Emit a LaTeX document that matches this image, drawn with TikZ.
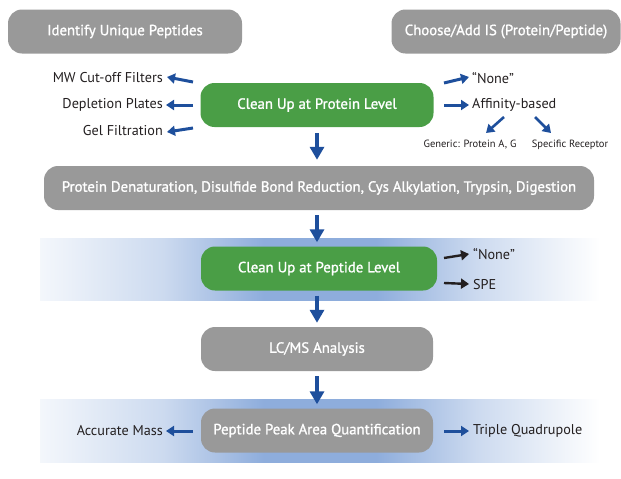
\documentclass[tikz,border=0pt]{standalone}
\usepackage{fontspec}
\setmainfont{PT Sans}
\newfontfamily\boxfont{PT Sans}[FakeBold=1.2]
\usetikzlibrary{arrows.meta}
\definecolor{boxgrey}{HTML}{999999}
\definecolor{boxgreen}{HTML}{4A9E46}
\definecolor{arrblue}{HTML}{1E4F9C}
\definecolor{bandblue}{HTML}{8EADDC}
\definecolor{lbltext}{HTML}{231F20}
\pgfdeclarehorizontalshading{bandshade}{100bp}{color(0bp)=(white); color(25bp)=(bandblue!10); color(36bp)=(bandblue!45); color(45bp)=(bandblue); color(55bp)=(bandblue); color(64bp)=(bandblue!45); color(75bp)=(white); color(100bp)=(white)}
\begin{document}
\begin{tikzpicture}[x=1pt,y=-1pt,
  box/.style={rounded corners=14pt, minimum height=44pt, text=white, font=\boxfont\fontsize{14.8}{16}\selectfont, inner sep=0pt, anchor=center},
  greybox/.style={box, fill=boxgrey},
  greenbox/.style={box, fill=boxgreen},
  lbl/.style={font=\fontsize{14.2}{16}\selectfont, text=lbltext, inner sep=0pt},
  smalllbl/.style={font=\fontsize{10.5}{12}\selectfont, text=lbltext, inner sep=0pt},
  arr/.style={-{Triangle[length=8pt,width=10pt]}, line width=3pt, draw=arrblue},
  karr/.style={arr, draw=lbltext},
  vlink/.style={draw=arrblue, line width=3.3pt, -{Triangle[length=13pt,width=14pt]}, shorten <=5pt, shorten >=4pt}]
\useasboundingbox (0,0) rectangle (621,479);
% bands
\shade[shading=bandshade] (40,238) rectangle (600,300);
\shade[shading=bandshade] (40,399) rectangle (600,462);
% top boxes
\node[greybox, minimum width=234pt] (iup) at (125,31.5) {Identify Unique Peptides};
\node[greybox, minimum width=229pt] (cis) at (506,31.5) {Choose/Add IS (Protein/Peptide)};
% main flow
\node[greenbox, minimum width=233pt] (clp) at (317,105) {Clean Up at Protein Level};
\node[greybox, minimum width=550pt] (den) at (319,188) {Protein Denaturation, Disulfide Bond Reduction, Cys Alkylation, Trypsin, Digestion};
\node[greenbox, minimum width=236pt] (cpl) at (319,268.5) {Clean Up at Peptide Level};
\node[greybox, minimum width=232pt] (lcms) at (317,349) {LC/MS Analysis};
\node[greybox, minimum width=232pt] (quant) at (317,430.5) {Peptide Peak Area Quantification};
% vertical links
\draw[vlink, shorten <=6pt, shorten >=6pt] (clp.south -| 317,0) -- (den.north -| 317,0);
\draw[vlink] (den.south -| 317,0) -- (cpl.north -| 317,0);
\draw[vlink] (cpl.south -| 317,0) -- (lcms.north -| 317,0);
\draw[vlink] (lcms.south -| 317,0) -- (quant.north -| 317,0);
% left labels protein level
\node[lbl, anchor=east] (mw) at (163,78) {MW Cut-off Filters};
\node[lbl, anchor=east] (dp) at (163,105) {Depletion Plates};
\node[lbl, anchor=east] (gf) at (163,131) {Gel Filtration};
\coordinate (l1a) at (193,82); \coordinate (l1b) at (167,77);
\coordinate (l2a) at (193,105); \coordinate (l2b) at (166,105);
\coordinate (l3a) at (193,128); \coordinate (l3b) at (167,132);
\draw[arr] (l1a) -- (l1b);
\draw[arr] (l2a) -- (l2b);
\draw[arr] (l3a) -- (l3b);
% right labels protein level
\node[lbl, anchor=west] (none1) at (472,78) {“None”};
\node[lbl, anchor=west] (aff) at (472,105) {Affinity-based};
\coordinate (r1a) at (444,83); \coordinate (r1b) at (469,77);
\coordinate (r2a) at (444,105); \coordinate (r2b) at (469,105);
\draw[arr] (r1a) -- (r1b);
\draw[arr] (r2a) -- (r2b);
\node[smalllbl] (gen) at (470,145) {Generic: Protein A, G};
\node[smalllbl] (spec) at (570,145) {Specific Receptor};
\coordinate (s1a) at (504,117); \coordinate (s1b) at (486,133);
\coordinate (s2a) at (535,117); \coordinate (s2b) at (551,133);
\draw[arr, line width=2.6pt] (s1a) -- (s1b);
\draw[arr, line width=2.6pt] (s2a) -- (s2b);
% peptide level
\node[lbl, anchor=west] (none2) at (473,254) {“None”};
\node[lbl, anchor=west] (spe) at (473,285) {SPE};
\coordinate (p1a) at (444,258); \coordinate (p1b) at (469,254);
\coordinate (p2a) at (444,283); \coordinate (p2b) at (469,284);
\draw[karr, line width=2.4pt] (p1a) -- (p1b);
\draw[karr, line width=2.4pt] (p2a) -- (p2b);
% quantification
\node[lbl, anchor=east] (am) at (163,431) {Accurate Mass};
\node[lbl, anchor=west] (tq) at (473,431) {Triple Quadrupole};
\coordinate (q1a) at (193,431); \coordinate (q1b) at (166,431);
\coordinate (q2a) at (444,431); \coordinate (q2b) at (469,431);
\draw[arr] (q1a) -- (q1b);
\draw[arr] (q2a) -- (q2b);
\end{tikzpicture}
\end{document}
